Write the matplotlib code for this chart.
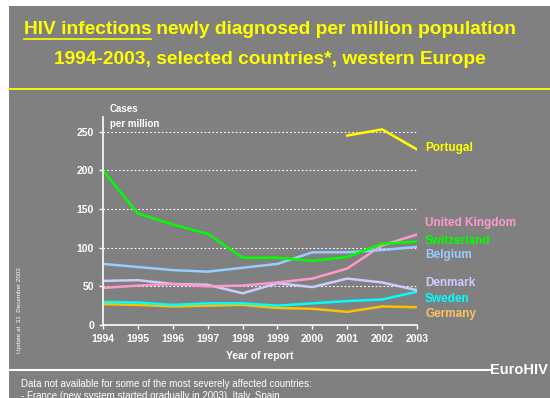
import numpy as np
import matplotlib.pyplot as plt
from matplotlib.lines import Line2D
from matplotlib.patches import Rectangle

years = np.arange(1994, 2004)

portugal_years = [2001, 2002, 2003]
portugal = [245, 253, 227]
switzerland = [200, 144, 130, 118, 87, 87, 83, 88, 105, 108]
uk = [48, 51, 53, 50, 51, 55, 60, 73, 103, 117]
belgium = [79, 75, 71, 69, 74, 79, 94, 94, 97, 101]
denmark = [57, 58, 53, 52, 41, 54, 49, 60, 55, 45]
sweden = [30, 29, 26, 28, 28, 25, 28, 31, 33, 43]
germany = [27, 26, 24, 25, 26, 22, 21, 17, 24, 23]

yticks = [0, 50, 100, 150, 200, 250]

GRAY = "#808080"
W, H = 550, 398

fig = plt.figure(figsize=(5.5, 3.98), dpi=100)
fig.patch.set_facecolor("white")

# grey slide background (white strip at top and left)
fig.add_artist(Rectangle((9/W, 0), 1, 1 - 6/H, transform=fig.transFigure,
                         facecolor=GRAY, edgecolor="none", zorder=0))

# title, first line: underlined part + rest, centred together
tfont = "Liberation Sans"
tsize = 13.8
part1 = fig.text(0, 1 - 29/H, "HIV infections", color="#ffff00", fontsize=tsize,
                 fontweight="bold", family=tfont, va="center", ha="left")
part2 = fig.text(0, 1 - 29/H, " newly diagnosed per million population", color="#ffff00",
                 fontsize=tsize, fontweight="bold", family=tfont, va="center", ha="left")
fig.canvas.draw()
r = fig.canvas.get_renderer()
w1 = part1.get_window_extent(r).width
w2 = part2.get_window_extent(r).width
x0 = 270 - (w1 + w2) / 2
part1.set_x(x0 / W)
part2.set_x((x0 + w1) / W)
fig.add_artist(Line2D([x0 / W, (x0 + w1) / W], [1 - 38.5/H, 1 - 38.5/H],
                      transform=fig.transFigure, color="#ffff00", lw=1.2))
fig.text(270/W, 1 - 59/H, "1994-2003, selected countries*, western Europe", color="#ffff00",
         fontsize=tsize, fontweight="bold", family=tfont, va="center", ha="center")
fig.add_artist(Line2D([9/W, 1], [1 - 88.5/H, 1 - 88.5/H],
                      transform=fig.transFigure, color="#ffff00", lw=1.3))

# chart
ax = fig.add_axes([103/W, 1 - 325/H, 314/W, 208/H])
ax.patch.set_alpha(0)

lw = 1.8
ax.plot(years, germany, color="#ffc000", lw=lw)
ax.plot(years, sweden, color="#00ffff", lw=lw)
ax.plot(years, denmark, color="#ccccff", lw=lw)
ax.plot(years, uk, color="#ff99cc", lw=lw)
ax.plot(years, belgium, color="#99ccff", lw=lw)
ax.plot(years, switzerland, color="#00ff00", lw=lw)
ax.plot(portugal_years, portugal, color="#ffff00", lw=lw)

ax.set_xlim(1994, 2003)
ax.set_ylim(0, 269)
ax.set_xticks(years)
ax.set_yticks(yticks)
for y in yticks[1:]:
    ax.axhline(y, color="white", lw=0.8, ls=(0, (1.5, 2)), zorder=0.5)

for s in ["top", "right"]:
    ax.spines[s].set_visible(False)
for s in ["left", "bottom"]:
    ax.spines[s].set_color("white")
    ax.spines[s].set_linewidth(1.2)
ax.tick_params(colors="white", direction="out", length=3, width=1, labelsize=7.5)
for lab in ax.get_xticklabels() + ax.get_yticklabels():
    lab.set_fontweight("bold")
    lab.set_family("Liberation Sans")

ax.set_xlabel("Year of report", color="white", fontsize=7.5, fontweight="bold",
              family="Liberation Sans", labelpad=5)
fig.text(110/W, 1 - 109/H, "Cases", color="white", fontsize=7, fontweight="bold",
         family="Liberation Sans", va="center", ha="left")
fig.text(110/W, 1 - 124/H, "per million", color="white", fontsize=7, fontweight="bold",
         family="Liberation Sans", va="center", ha="left")

# series labels
labels = [("Portugal", 148, "#ffff00"),
          ("United Kingdom", 223, "#ff99cc"),
          ("Switzerland", 241, "#00ff00"),
          ("Belgium", 255, "#99ccff"),
          ("Denmark", 283, "#ccccff"),
          ("Sweden", 299, "#00ffff"),
          ("Germany", 314, "#ffc060")]
for name, ypx, col in labels:
    fig.text(425/W, 1 - ypx/H, name, color=col, fontsize=8.5, fontweight="bold",
             family="Liberation Sans", va="center", ha="left")

# bottom rule and logo
fig.add_artist(Line2D([9/W, 490/W], [1 - 370/H, 1 - 370/H],
                      transform=fig.transFigure, color="white", lw=1.5))
fig.text(548/W, 1 - 370/H, "EuroHIV", color="white", fontsize=10.5, fontweight="bold",
         family="Liberation Sans", va="center", ha="right")

fig.text(20/W, 1 - 310/H, "Update at  31  December 2003", color="white", fontsize=4.5,
         family="Liberation Sans", rotation=90, va="center", ha="center")

fig.text(21/W, 1 - 384/H, "Data not available for some of the most severely affected countries:",
         color="white", fontsize=7, family="Liberation Sans", va="center", ha="left")
fig.text(21/W, 1 - 396/H, "- France (new system started gradually in 2003), Italy, Spain",
         color="white", fontsize=7, family="Liberation Sans", va="center", ha="left")

fig.savefig("out.png", dpi=100, facecolor=fig.get_facecolor())
